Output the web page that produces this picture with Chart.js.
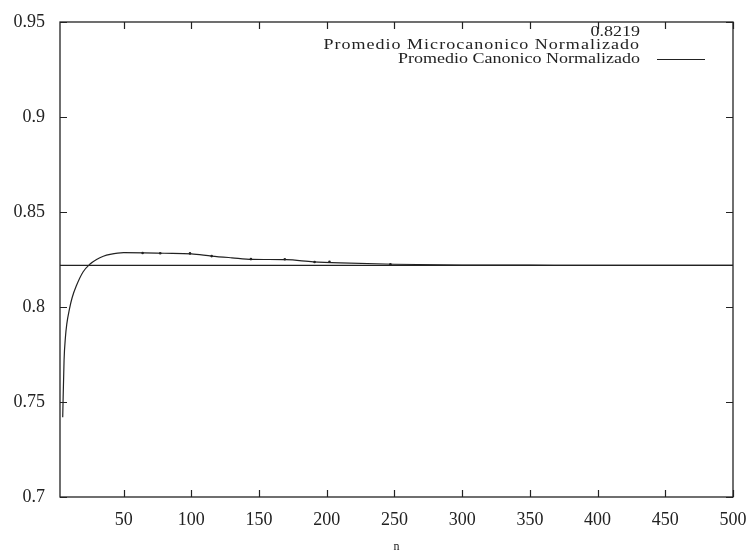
<!DOCTYPE html>
<html>
<head>
<meta charset="utf-8">
<script src="https://cdn.jsdelivr.net/npm/chart.js@4/dist/chart.umd.min.js"></script>
<style>
  html, body { margin: 0; padding: 0; background: #fff; }
  #wrap { width: 755px; height: 554px; }
</style>
</head>
<body>
<div id="wrap"><canvas id="plot" width="755" height="554"></canvas></div>
<script>
// values
const nCanon = [5, 6, 7, 8, 10, 12, 15, 20, 25, 30, 35, 40, 50, 65, 80, 100, 115, 130, 145, 170, 190, 210, 250, 300, 350, 400, 450, 500];
const vCanon = [0.742, 0.772, 0.784, 0.791, 0.799, 0.805, 0.811, 0.8184, 0.8225, 0.8250, 0.8267, 0.8277, 0.8286, 0.8285, 0.8283, 0.8280, 0.8268, 0.8259, 0.8251, 0.8249, 0.8238, 0.8232, 0.8225, 0.8221, 0.8220, 0.8219, 0.8219, 0.8219];
const nMicro = [64, 77, 99, 115, 144, 169, 191, 202, 247];
const vMicro = [0.8284, 0.8283, 0.8282, 0.8268, 0.8252, 0.8251, 0.8237, 0.8238, 0.8225];
const limitValue = 0.8219;
const limitRange = [3, 500];
const xTicks = [50, 100, 150, 200, 250, 300, 350, 400, 450, 500];
const yTicks = [0.7, 0.75, 0.8, 0.85, 0.9, 0.95];
const keyLabels = ['0.8219', 'Promedio Microcanonico Normalizado', 'Promedio Canonico Normalizado'];

const ink = '#222';
const serif = '"Liberation Serif", "DejaVu Serif", serif';

const toPoints = (xs, ys) => xs.map((x, i) => ({ x: x, y: ys[i] }));

// no extra room for overhanging tick labels, the frame sits where padding says
const noOverhang = s => {
  s.paddingTop = 0; s.paddingBottom = 0;
  s.paddingLeft = 0; s.paddingRight = 0;
};

// gnuplot style frame with inward ticks on all four sides
const framePlugin = {
  id: 'frame',
  afterDatasetsDraw(chart) {
    const { ctx, chartArea: a, scales } = chart;
    ctx.save();
    ctx.strokeStyle = ink;
    ctx.lineWidth = 1.3;
    ctx.strokeRect(a.left, a.top, a.right - a.left, a.bottom - a.top);
    ctx.lineWidth = 1.2;
    ctx.beginPath();
    xTicks.forEach(t => {
      const px = Math.round(scales.x.getPixelForValue(t)) + 0.5;
      ctx.moveTo(px, a.bottom); ctx.lineTo(px, a.bottom - 7);
      ctx.moveTo(px, a.top); ctx.lineTo(px, a.top + 7);
    });
    yTicks.forEach(t => {
      const py = Math.round(scales.y.getPixelForValue(t)) + 0.5;
      ctx.moveTo(a.left, py); ctx.lineTo(a.left + 7, py);
      ctx.moveTo(a.right, py); ctx.lineTo(a.right - 7, py);
    });
    ctx.stroke();
    ctx.restore();
  }
};

// key drawn the gnuplot way: text right aligned, sample to its right
// (the scanned key lettering is wide and short, hence the x stretch)
const keyPlugin = {
  id: 'gpkey',
  afterDraw(chart) {
    const { ctx } = chart;
    const textRight = 640;
    const rows = [32, 45.5, 59];
    ctx.save();
    ctx.fillStyle = ink;
    ctx.font = '15px ' + serif;
    ctx.textAlign = 'right';
    ctx.textBaseline = 'middle';
    keyLabels.forEach((txt, i) => {
      ctx.save();
      ctx.translate(textRight, rows[i]);
      ctx.scale(1.2, 1);
      ctx.letterSpacing = i === 1 ? '0.85px' : '0px';
      ctx.fillText(txt, 0, 0);
      ctx.restore();
    });
    ctx.strokeStyle = ink;
    ctx.lineWidth = 1.2;
    ctx.beginPath();
    ctx.moveTo(657, rows[2] + 0.5);
    ctx.lineTo(705, rows[2] + 0.5);
    ctx.stroke();
    ctx.restore();
  }
};

new Chart(document.getElementById('plot').getContext('2d'), {
  type: 'scatter',
  data: {
    datasets: [
      {
        label: keyLabels[0],
        data: toPoints(limitRange, [limitValue, limitValue]),
        showLine: true,
        borderColor: ink,
        borderWidth: 1.2,
        pointRadius: 0
      },
      {
        label: keyLabels[1],
        data: toPoints(nMicro, vMicro),
        showLine: false,
        backgroundColor: ink,
        borderColor: ink,
        pointRadius: 1.3,
        pointBorderWidth: 0
      },
      {
        label: keyLabels[2],
        data: toPoints(nCanon, vCanon),
        showLine: true,
        borderColor: ink,
        borderWidth: 1.2,
        pointRadius: 0,
        cubicInterpolationMode: 'monotone'
      }
    ]
  },
  options: {
    responsive: false,
    animation: false,
    layout: { padding: { top: 22, right: 22, left: 0, bottom: 0 } },
    plugins: {
      legend: { display: false },
      tooltip: { enabled: false }
    },
    scales: {
      x: {
        type: 'linear',
        min: 3,
        max: 500,
        grid: { display: false, drawTicks: false },
        border: { display: false },
        afterBuildTicks: s => { s.ticks = xTicks.map(v => ({ value: v })); },
        afterFit: s => { s.height = 57; noOverhang(s); },
        ticks: {
          color: ink,
          padding: 12,
          maxRotation: 0,
          font: { family: serif, size: 18 },
          callback: v => String(v)
        },
        title: {
          display: true,
          text: 'n',
          color: ink,
          padding: 0,
          font: { family: serif, size: 12 }
        }
      },
      y: {
        type: 'linear',
        min: 0.7,
        max: 0.95,
        grid: { display: false, drawTicks: false },
        border: { display: false },
        afterBuildTicks: s => { s.ticks = yTicks.map(v => ({ value: v })); },
        afterFit: s => { s.width = 60; noOverhang(s); },
        ticks: {
          color: ink,
          padding: 15,
          font: { family: serif, size: 18 },
          callback: v => String(+v.toFixed(2))
        }
      }
    }
  },
  plugins: [framePlugin, keyPlugin]
});
</script>
</body>
</html>
